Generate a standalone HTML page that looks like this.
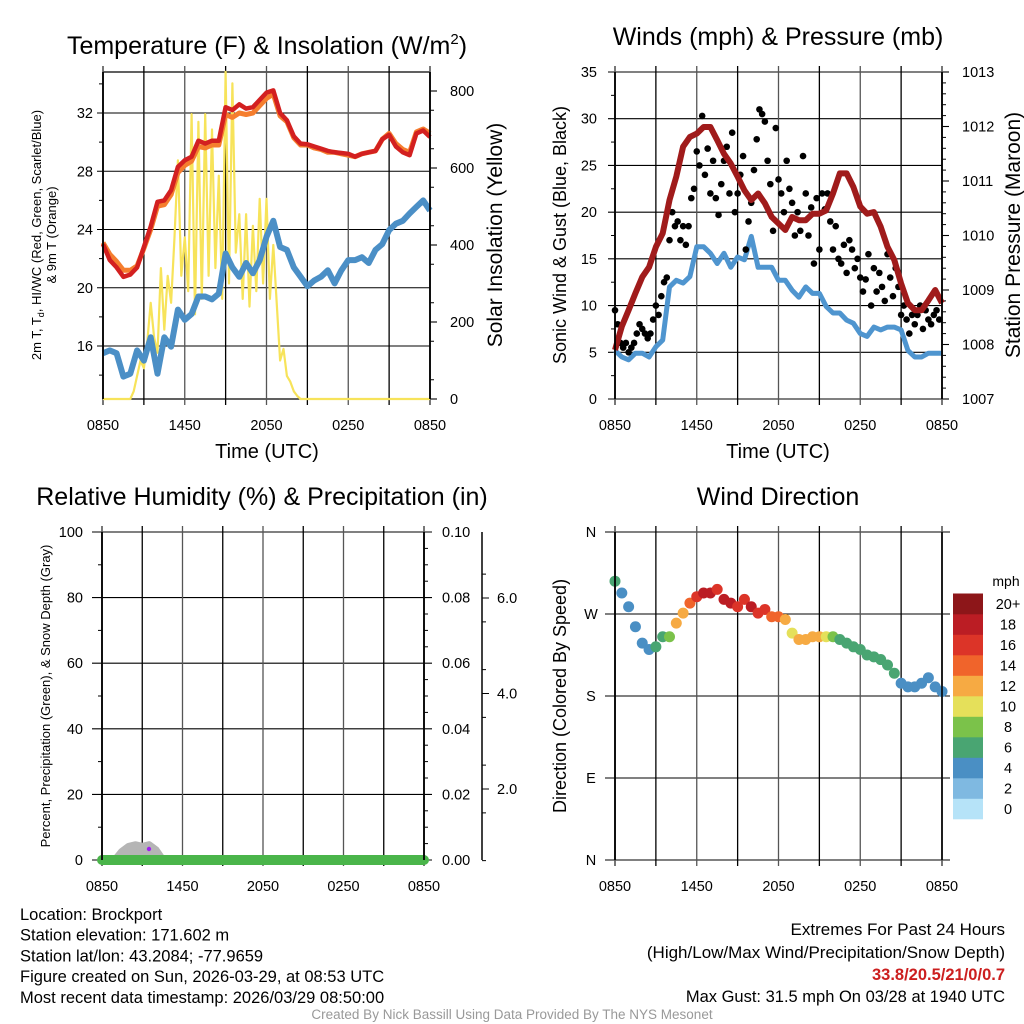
<!DOCTYPE html>
<html><head><meta charset="utf-8"><style>
html,body{margin:0;padding:0;background:#fff;}
svg{display:block;font-family:"Liberation Sans",Arial,sans-serif;}
</style></head><body>
<svg id="c" width="1024" height="1024" viewBox="0 0 1024 1024"></svg>
<script>
// ---------- DATA ----------
// Temperature panel (half-hourly, hours 0..24 from 0850 UTC)
const tempRed=[23.0,21.9,21.4,20.75,20.9,21.4,22.8,24.2,25.9,26.0,26.7,28.3,28.75,29.0,30.1,29.9,30.1,30.1,32.4,32.2,32.6,32.3,32.4,32.9,33.4,33.55,32.0,31.5,30.4,29.9,29.85,29.7,29.55,29.4,29.3,29.25,29.2,29.0,29.2,29.3,29.4,30.2,30.5,29.7,29.3,29.1,30.6,30.8,30.35];
const tempOrange=[23.1,22.3,21.8,21.2,21.2,21.5,22.7,24.0,25.6,25.7,26.4,27.9,28.4,28.7,29.7,29.6,29.8,29.8,31.9,31.7,32.0,31.9,32.0,32.5,33.0,33.3,31.8,31.4,30.3,29.8,29.8,29.6,29.5,29.3,29.3,29.2,29.1,29.0,29.2,29.3,29.4,30.2,30.6,29.9,29.5,29.3,30.7,30.9,30.6];
const dewBlue=[15.5,15.7,15.5,13.9,14.1,15.7,15.0,16.6,14.1,16.6,15.95,18.5,17.8,18.2,19.4,19.4,19.2,19.6,22.35,21.4,20.75,21.7,21.0,21.9,23.5,24.6,22.8,22.6,21.4,20.75,20.1,20.5,20.75,21.2,20.3,21.2,21.9,21.9,22.1,21.7,22.6,23.0,23.95,24.4,24.6,25.1,25.55,26.0,25.3];
// Solar insolation, quarter-hourly from hour 2.0 to 14.5 (zero elsewhere)
const solar=[0,20,60,100,80,150,250,160,120,340,180,320,250,420,620,320,420,280,740,220,720,260,740,320,700,340,580,260,850,300,820,380,480,260,480,240,450,280,520,300,520,260,400,250,100,130,60,45,20,8,0];
const solarStart=2.0;
// Winds panel (half-hourly)
const pressure=[1007.9,1008.33,1008.63,1008.94,1009.24,1009.42,1009.79,1010.04,1010.65,1011.08,1011.63,1011.81,1011.87,1011.99,1011.99,1011.75,1011.5,1011.32,1011.08,1010.83,1010.65,1010.77,1010.59,1010.34,1010.22,1010.1,1010.34,1010.28,1010.28,1010.4,1010.4,1010.46,1010.77,1011.14,1011.14,1010.89,1010.53,1010.4,1010.43,1010.16,1009.79,1009.55,1009.12,1008.76,1008.63,1008.63,1008.81,1009.0,1008.76];
const windSpd=[5.2,4.5,4.2,4.9,4.9,4.5,5.6,6.3,12.0,12.7,12.4,13.1,16.3,16.3,15.6,14.5,15.6,14.1,15.2,14.9,17.4,14.1,14.1,14.1,12.7,12.7,11.65,10.9,12.0,11.3,11.3,9.9,9.2,9.2,8.45,8.1,7.0,6.7,7.7,7.4,7.7,7.7,7.4,5.2,4.5,4.5,4.9,4.9,4.9];
// Gusts every 0.2 h
const gust=[9.5,8,6,5.5,6,5,5.5,6,7,8, 7.5,7,6.5,7,8.5,10,9,11,12.5,13, 17,20,18.5,19,17,18.5,16.5,18.5,21.5,22.5, 26.5,25,30.3,24,26.8,22,25.5,21.5,19.7,23, 25.5,27,22,28.5,20,22,24,26,16,19, 21,24.5,27.8,31,30.5,29.7,25.5,23,18,29, 23.5,22,20,25.5,22.5,21,17.5,20,18,26, 22,17.5,20.5,14.5,21.5,16,22,20.3,22,19, 16,18.5,15,14.5,16.5,13.5,17,16,14,15, 13,11.5,12.8,15.5,10,14,11.5,13.5,12,10.5, 15.5,13,11,14,12,9,10,8.5,7,9, 8,9,10,7.5,9.5,8.5,8,9,9.5,8.5];
const gustStep=0.2;
// Wind direction (deg) and speed (mph), half-hourly
const windDir=[306,293,278,256,238,231,234,245,245,260,271,282,289,293,293,297,286,282,278,286,278,271,275,267,267,264,249,242,242,245,245,245,245,242,238,234,231,225,223,220,214,205,194,190,190,194,200,190,185];
const dirSpd=[6,5,4,4,4,5,6,7,9,13,13,15,17,19,18,17,18,19,17,16,18,17,16,15,14,13,11,12,13,12,12,11,8,7,7,6,7,7,7,7,6,6,5,4,4,4,4,5,4];
// Snow depth (percent-axis units) from hour 1.0, half-hourly
const snow=[0,2.5,4,4.5,4,4.5,3,0];
const snowStart=1.0;
// Tick labels
const timeLabels=["0850","1450","2050","0250","0850"];
const tempTicks=[16,20,24,28,32];
const solarTicks=[0,200,400,600,800];
const windTicks=[0,5,10,15,20,25,30,35];
const presTicks=[1007,1008,1009,1010,1011,1012,1013];
const rhTicks=[0,20,40,60,80,100];
const precipTicks=["0.00","0.02","0.04","0.06","0.08","0.10"];
const snowTicks=["2.0","4.0","6.0"];
const dirTicks=["N","E","S","W","N"];
const cbLabels=["0","2","4","6","8","10","12","14","16","18","20+"];
const cbColors=["#b6e3f8","#7fb9e1","#4a8fc4","#49a572","#7bc24a","#e5e05a","#f6aa43","#f0642b","#dc3428","#bb1d24","#8d1619"];

// ---------- HELPERS ----------
const NS="http://www.w3.org/2000/svg";
const svg=document.getElementById('c');
function mk(tag,attrs,name,parent){
  const el=document.createElementNS(NS,tag);
  for(const k in attrs) el.setAttribute(k,attrs[k]);
  
  
  (parent||svg).appendChild(el);
  return el;
}
function txt(x,y,s,size,anchor,name,extra){
  const a=Object.assign({x:x,y:y,'font-size':size,'text-anchor':anchor||'middle',fill:'#000'},extra||{});
  const t=mk('text',a,name);
  t.textContent=s;
  return t;
}
function lin(d0,d1,r0,r1){return v=>r0+(v-d0)/(d1-d0)*(r1-r0);}
function pathFrom(xs,ys){return xs.map((x,i)=>(i?'L':'M')+x.toFixed(1)+' '+ys[i].toFixed(1)).join(' ');}

function frame(L,R,T,B,name){
  for(let i=0;i<=8;i++){
    const x=L+i*(R-L)/8;
    mk('line',{x1:x,y1:T-6,x2:x,y2:B+6,stroke:(i%2?'#000':'#555'),'stroke-width':(i==0||i==8)?1.6:1.3},name+'-vgrid-'+i);
  }
  timeLabels.forEach((s,i)=>txt(L+i*(R-L)/4,B+31,s,14.5,'middle',name+'-x-tick-'+s));
}

// ---------- PANEL 1 ----------
(function(){
  const L=103,R=430,T=72,B=399;
  const hx=lin(0,24,L,R), ty=lin(16,32,346,113), sy=lin(0,800,399,91);
  const tt=mk('text',{x:267,y:54,'font-size':25,'text-anchor':'middle'},'temp-panel-title');
  tt.innerHTML='Temperature (F) &amp; Insolation (W/m<tspan dy="-10" font-size="15">2</tspan><tspan dy="10">)</tspan>';
  mk('line',{x1:L,y1:T,x2:R,y2:T,stroke:'#000','stroke-width':1.3},'temp-top-border');
  mk('line',{x1:L,y1:B,x2:R,y2:B,stroke:'#000','stroke-width':1.3},'temp-bottom-border');
  tempTicks.forEach(v=>{const y=ty(v);
    mk('line',{x1:L-6,y1:y,x2:R,y2:y,stroke:'#000','stroke-width':1.1},'temp-hgrid-'+v);
    txt(L-10,y+5,String(v),14.5,'end','temp-y-tick-'+v);});
  [14,18,22,26,30,34].forEach(v=>{const y=ty(v); if(y>T&&y<B) mk('line',{x1:L-4,y1:y,x2:L,y2:y,stroke:'#000'},'temp-minor-tick');});
  solarTicks.forEach(v=>{const y=sy(v);
    mk('line',{x1:R,y1:y,x2:R+7,y2:y,stroke:'#000','stroke-width':1.1},'solar-tick-'+v);
    txt(R+20,y+5,String(v),14.5,'start','solar-y-tick-'+v);});
  for(let v=50;v<850;v+=100){const y=sy(v); mk('line',{x1:R,y1:y,x2:R+4,y2:y,stroke:'#000'},'solar-minor-tick');}
  frame(L,R,T,B,'temp');
  txt(267,458,"Time (UTC)",20,'middle','temp-x-axis-title');
  const yt=mk('text',{'font-size':13,'text-anchor':'middle',transform:'translate(41,235) rotate(-90)'},'temp-y-axis-title');
  yt.innerHTML='<tspan x="0" y="0">2m T, T<tspan font-size="9" dy="3">d</tspan><tspan dy="-3">, HI/WC (Red, Green, Scarlet/Blue)</tspan></tspan><tspan x="0" y="15">&amp; 9m T (Orange)</tspan>';
  txt(0,0,"Solar Insolation (Yellow)",21,'middle','solar-axis-title',{transform:'translate(502,235) rotate(-90)'});
  const hh=tempRed.map((v,i)=>hx(i*0.5));
  const sxs=[hx(0)],sys=[sy(0)];
  solar.forEach((v,i)=>{sxs.push(hx(solarStart+i*0.25)); sys.push(sy(v));});
  sxs.push(hx(24)); sys.push(sy(0));
  mk('path',{d:pathFrom(sxs,sys),fill:'none',stroke:'#f7e35a','stroke-width':2.2,'stroke-linejoin':'round'},'solar-insolation-line');
  mk('path',{d:pathFrom(hh,dewBlue.map(ty)),fill:'none',stroke:'#4b8fc6','stroke-width':6,'stroke-linejoin':'round'},'dewpoint-line');
  mk('path',{d:pathFrom(hh,tempOrange.map(ty)),fill:'none',stroke:'#f57e2e','stroke-width':5,'stroke-linejoin':'round'},'temp-9m-line');
  mk('path',{d:pathFrom(hh,tempRed.map(ty)),fill:'none',stroke:'#d32020','stroke-width':4.5,'stroke-linejoin':'round'},'temp-2m-line');
  mk('line',{x1:L,y1:T,x2:L,y2:B,stroke:'#000','stroke-width':1.8},'temp-left-axis');
  mk('line',{x1:R,y1:T,x2:R,y2:B,stroke:'#000','stroke-width':1.8},'temp-right-axis');
})();

// ---------- PANEL 2 ----------
(function(){
  const L=615,R=942,T=72,B=399;
  const hx=lin(0,24,L,R), wy=lin(0,35,B,T), py=lin(1007,1013,B,T);
  txt(778,45,"Winds (mph) & Pressure (mb)",25,'middle','wind-panel-title');
  windTicks.forEach(v=>{const y=wy(v);
    mk('line',{x1:L-7,y1:y,x2:R,y2:y,stroke:'#000','stroke-width':1.1},'wind-hgrid-'+v);
    txt(L-18,y+5,String(v),14.5,'end','wind-y-tick-'+v);});
  for(let v=2.5;v<35;v+=5) mk('line',{x1:L-4,y1:wy(v),x2:L,y2:wy(v),stroke:'#000'},'wind-minor-tick');
  presTicks.forEach(v=>{const y=py(v);
    mk('line',{x1:R,y1:y,x2:R+7,y2:y,stroke:'#000','stroke-width':1.1},'pres-tick-'+v);
    txt(R+20,y+5,String(v),14.5,'start','pres-y-tick-'+v);});
  for(let v=1007.2;v<1013;v+=0.2){ mk('line',{x1:R,y1:py(v),x2:R+4,y2:py(v),stroke:'#000'},'pres-minor-tick');}
  frame(L,R,T,B,'wind');
  txt(778,458,"Time (UTC)",20,'middle','wind-x-axis-title');
  txt(0,0,"Sonic Wind & Gust (Blue, Black)",18,'middle','wind-y-axis-title',{transform:'translate(566,235) rotate(-90)'});
  txt(0,0,"Station Pressure (Maroon)",21,'middle','pressure-axis-title',{transform:'translate(1020,235) rotate(-90)'});
  const hh=windSpd.map((v,i)=>hx(i*0.5));
  mk('path',{d:pathFrom(hh,windSpd.map(wy)),fill:'none',stroke:'#4f95cf','stroke-width':5,'stroke-linejoin':'round'},'sonic-wind-line');
  gust.forEach((v,i)=>{
    mk('circle',{cx:hx(i*gustStep),cy:wy(v),r:3.3,fill:'#000'},'gust-point');
  });
  mk('path',{d:pathFrom(hh,pressure.map(py)),fill:'none',stroke:'#a01b1b','stroke-width':6,'stroke-linejoin':'round'},'pressure-line');
  mk('line',{x1:L,y1:T,x2:L,y2:B,stroke:'#000','stroke-width':1.8},'wind-left-axis');
  mk('line',{x1:R,y1:T,x2:R,y2:B,stroke:'#000','stroke-width':1.8},'wind-right-axis');
})();

// ---------- PANEL 3 ----------
(function(){
  const L=102,R=424,T=532,B=860;
  const hx=lin(0,24,L,R), ry=lin(0,100,B,T);
  txt(262,505,"Relative Humidity (%) & Precipitation (in)",25,'middle','rh-panel-title');
  rhTicks.forEach((v,i)=>{const y=ry(v);
    mk('line',{x1:L-10,y1:y,x2:R+8,y2:y,stroke:'#000','stroke-width':1.1},'rh-hgrid-'+v);
    txt(L-19,y+5,String(v),14.5,'end','rh-y-tick-'+v);
    txt(L+340,y+5,precipTicks[i],14.5,'start','precip-y-tick-'+precipTicks[i]);});
  for(let v=10;v<100;v+=20) mk('line',{x1:L-4,y1:ry(v),x2:L,y2:ry(v),stroke:'#000'},'rh-minor-tick');
  for(let v=5;v<100;v+=5) if(v%20) mk('line',{x1:R,y1:ry(v),x2:R+4,y2:ry(v),stroke:'#000'},'precip-minor-tick');
  frame(L,R,T,B,'rh');
  mk('line',{x1:482,y1:T,x2:482,y2:B,stroke:'#000','stroke-width':1.5},'snow-axis');
  const sny=lin(2,6,789,598);
  snowTicks.forEach(s=>{const y=sny(parseFloat(s));
    mk('line',{x1:482,y1:y,x2:489,y2:y,stroke:'#000'},'snow-tick');
    txt(497,y+5,s,14.5,'start','snow-y-tick-'+s);});
  for(let v=0.5;v<7;v+=1) mk('line',{x1:482,y1:sny(v),x2:486,y2:sny(v),stroke:'#000'},'snow-minor-tick');
  txt(0,0,"Percent, Precipitation (Green), & Snow Depth (Gray)",13,'middle','rh-y-axis-title',{transform:'translate(50,696) rotate(-90)'});
  const sx=snow.map((v,i)=>hx(snowStart+i*0.5)), sy=snow.map(v=>ry(v));
  mk('path',{d:pathFrom(sx,sy)+' L'+sx[sx.length-1]+' '+B+' L'+sx[0]+' '+B+'Z',fill:'#b5b5b5',stroke:'#b5b5b5','stroke-width':8,'stroke-linejoin':'round'},'snow-depth-area');
  mk('line',{x1:L,y1:B,x2:R,y2:B,stroke:'#4ab54a','stroke-width':10,'stroke-linecap':'round'},'precipitation-line');
  mk('circle',{cx:149,cy:849,r:2.2,fill:'#a020f0'},'rh-point');
  mk('line',{x1:L,y1:T,x2:L,y2:B,stroke:'#000','stroke-width':1.8},'rh-left-axis');
  mk('line',{x1:R,y1:T,x2:R,y2:B,stroke:'#000','stroke-width':1.8},'rh-right-axis');
})();

// ---------- PANEL 4 ----------
(function(){
  const L=615,R=942,T=532,B=860;
  const hx=lin(0,24,L,R), dy=lin(0,360,B,T);
  txt(778,505,"Wind Direction",25,'middle','direction-panel-title');
  dirTicks.forEach((s,i)=>{const y=dy(i*90);
    mk('line',{x1:L-10,y1:y,x2:R+8,y2:y,stroke:'#000','stroke-width':1.1},'dir-hgrid-'+i);
    txt(L-24,y+5,s,14.5,'middle','dir-y-tick-'+s);});
  frame(L,R,T,B,'dir');
  txt(0,0,"Direction (Colored By Speed)",18,'middle','dir-y-axis-title',{transform:'translate(566,696) rotate(-90)'});
  windDir.forEach((d,i)=>{
    const c=cbColors[Math.min(10,Math.floor(dirSpd[i]/2))];
    mk('circle',{cx:hx(i*0.5),cy:dy(d),r:5.5,fill:c},'direction-point');
  });
  mk('line',{x1:L,y1:T,x2:L,y2:B,stroke:'#000','stroke-width':1.8},'dir-left-axis');
  mk('line',{x1:R,y1:T,x2:R,y2:B,stroke:'#000','stroke-width':1.6},'dir-right-axis');
  txt(1006,586,"mph",14,'middle','colorbar-title');
  const h=20.5;
  cbColors.forEach((col,i)=>{
    const y=819-(i+1)*h;
    mk('rect',{x:953,y:y,width:30,height:h+0.3,fill:col},'colorbar-swatch-'+cbLabels[i]);
    txt(1008,y+h/2+5,cbLabels[i],14.5,'middle','colorbar-label-'+cbLabels[i]);
  });
})();

// ---------- FOOTER ----------
const info=["Location: Brockport","Station elevation: 171.602 m","Station lat/lon: 43.2084; -77.9659","Figure created on Sun, 2026-03-29, at 08:53 UTC","Most recent data timestamp: 2026/03/29 08:50:00"];
info.forEach((s,i)=>txt(20,920+i*20.7,s,16.5,'start','station-info-line-'+(i+1)));
txt(1005,935,"Extremes For Past 24 Hours",17,'end','extremes-heading');
txt(1005,958,"(High/Low/Max Wind/Precipitation/Snow Depth)",17,'end','extremes-subheading');
txt(1005,980,"33.8/20.5/21/0/0.7",16.5,'end','extremes-values',{fill:'#cc1f1f','font-weight':'bold'});
txt(1005,1002,"Max Gust: 31.5 mph On 03/28 at 1940 UTC",16.5,'end','max-gust-text');
txt(512,1019,"Created By Nick Bassill Using Data Provided By The NYS Mesonet",13.5,'middle','credit-text',{fill:'#999'});
</script>
</body></html>
